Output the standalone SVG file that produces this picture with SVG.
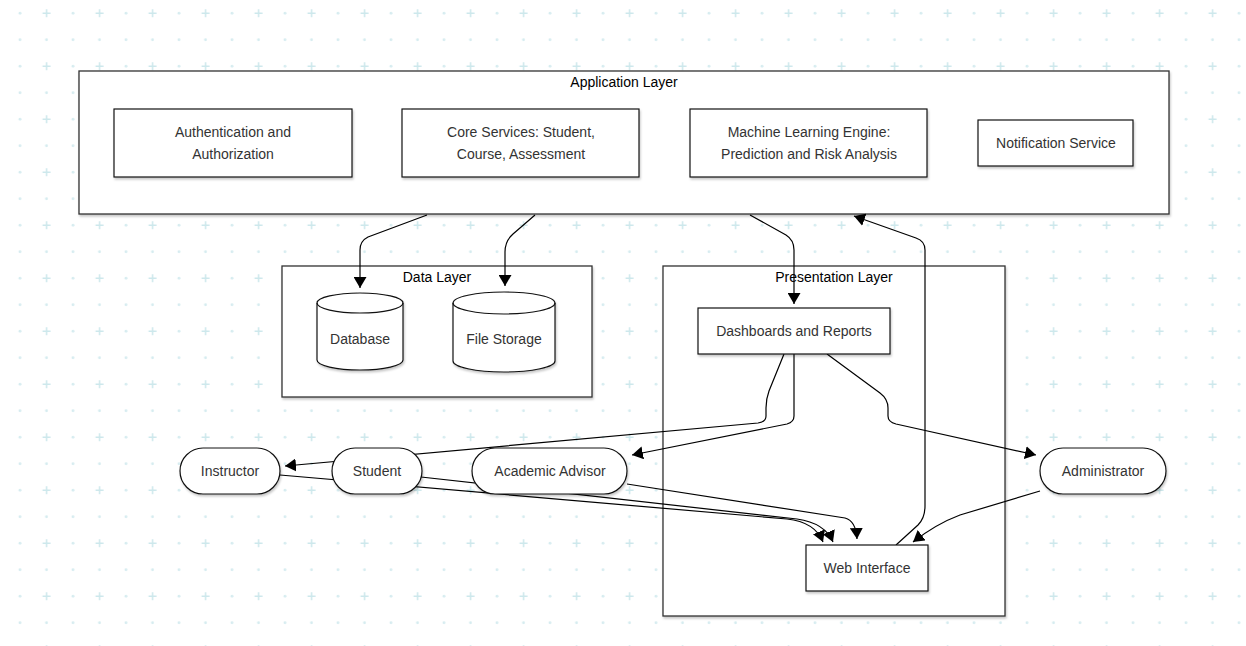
<svg xmlns="http://www.w3.org/2000/svg" width="1246" height="646" viewBox="0 0 1246 646">
  <defs>
    <!-- light dotted / cross grid backdrop -->
    <pattern id="grid" patternUnits="userSpaceOnUse" x="6.75" y="0" width="53" height="53">
      <circle cx="13.25" cy="13.25" r="1.4" fill="#d6ecf0"/>
      <path d="M35.75,13.25 H43.75 M39.75,9.25 V17.25" stroke="#cde8ec" stroke-width="1.5"/>
      <circle cx="13.25" cy="39.75" r="1.4" fill="#d6ecf0"/>
      <circle cx="39.75" cy="39.75" r="1.4" fill="#d6ecf0"/>
    </pattern>
    <filter id="shadow" x="-10%" y="-10%" width="120%" height="130%">
      <feDropShadow dx="1" dy="2" stdDeviation="1" flood-color="#000" flood-opacity="0.22"/>
    </filter>
    <marker id="arrow" markerUnits="userSpaceOnUse" markerWidth="12" markerHeight="13" refX="11" refY="6.5" orient="auto">
      <path d="M0,0 L11,6.5 L0,13 z" fill="#000"/>
    </marker>
  </defs>
  <style>
    .cluster { fill: #fff; stroke: #333; stroke-width: 1.3; filter: url(#shadow); }
    .box { fill: #fff; stroke: #111; stroke-width: 1.2; filter: url(#shadow); }
    .label { font-family: "Liberation Sans", Arial, sans-serif; font-size: 14px; fill: #333; text-anchor: middle; }
    .title { font-family: "Liberation Sans", Arial, sans-serif; font-size: 14px; fill: #000; text-anchor: middle; }
    .edge { fill: none; stroke: #000; stroke-width: 1.2; marker-end: url(#arrow); }
  </style>

  <rect width="1246" height="646" fill="#fff"/>
  <rect width="1246" height="646" fill="url(#grid)"/>

  <!-- layer containers -->
  <g id="application-layer">
    <rect class="cluster" x="79" y="71" width="1090" height="143"/>
    <text class="title" x="624" y="87">Application Layer</text>
  </g>
  <g id="data-layer">
    <rect class="cluster" x="282" y="266" width="310" height="131"/>
    <text class="title" x="437" y="282">Data Layer</text>
  </g>
  <g id="presentation-layer">
    <rect class="cluster" x="663" y="266" width="342" height="350"/>
    <text class="title" x="834" y="282">Presentation Layer</text>
  </g>

  <!-- connectors -->
  <g id="connectors">
    <path class="edge" d="M427,215 L368,237 Q360,241 360,250 L360,288"/>
    <path class="edge" d="M535,215 L513,234 Q505,241 505,252 L505,286"/>
    <path class="edge" d="M750,215 L786,235 Q794,240 794,250 L794,304"/>
    <path class="edge" d="M896,545 L918,525 Q925,518 925,506 L925,250 Q925,241 916,238 L854,216"/>
    <path class="edge" d="M784,354 L769,391 Q766,399 766,408 L766,416 Q766,422 758,423 L285,466"/>
    <path class="edge" d="M794,354 L794,416 Q794,422 787,424 L632,455"/>
    <path class="edge" d="M827,354 L880,393 Q888,399 888,408 L888,416 Q888,422 896,424 L1036,455"/>
    <path class="edge" d="M1040,491 L960,515 Q936,524 913,542"/>
    <path class="edge" d="M280,475 L787,519 Q815,522 823,542"/>
    <path class="edge" d="M421,477 L797,519 Q825,523 833,542"/>
    <path class="edge" d="M627,484 L845,518 Q856,521 857,539"/>
  </g>

  <!-- application services -->
  <g id="auth">
    <rect class="box" x="114" y="109" width="238" height="68"/>
    <text class="label" x="233" y="137">Authentication and</text>
    <text class="label" x="233" y="159">Authorization</text>
  </g>
  <g id="core-services">
    <rect class="box" x="402" y="109" width="237" height="68"/>
    <text class="label" x="521" y="137">Core Services: Student,</text>
    <text class="label" x="521" y="159">Course, Assessment</text>
  </g>
  <g id="ml-engine">
    <rect class="box" x="690" y="109" width="237" height="68"/>
    <text class="label" x="809" y="137">Machine Learning Engine:</text>
    <text class="label" x="809" y="159">Prediction and Risk Analysis</text>
  </g>
  <g id="notification">
    <rect class="box" x="978" y="120" width="155" height="46"/>
    <text class="label" x="1056" y="148">Notification Service</text>
  </g>

  <!-- storage -->
  <g id="database">
    <path class="box" d="M317,303 A43,10 0 0 1 403,303 L403,360 A43,10 0 0 1 317,360 Z"/>
    <path d="M317,303 A43,10 0 0 0 403,303" fill="none" stroke="#111" stroke-width="1.2"/>
    <text class="label" x="360" y="344">Database</text>
  </g>
  <g id="file-storage">
    <path class="box" d="M453,303 A51,11 0 0 1 555,303 L555,361 A51,11 0 0 1 453,361 Z"/>
    <path d="M453,303 A51,11 0 0 0 555,303" fill="none" stroke="#111" stroke-width="1.2"/>
    <text class="label" x="504" y="344">File Storage</text>
  </g>

  <!-- presentation -->
  <g id="dashboards">
    <rect class="box" x="698" y="308" width="192" height="46"/>
    <text class="label" x="794" y="336">Dashboards and Reports</text>
  </g>
  <g id="web-interface">
    <rect class="box" x="806" y="545" width="122" height="46"/>
    <text class="label" x="867" y="573">Web Interface</text>
  </g>

  <!-- users -->
  <g id="instructor">
    <rect class="box" x="180" y="448" width="100" height="46" rx="23"/>
    <text class="label" x="230" y="476">Instructor</text>
  </g>
  <g id="student">
    <rect class="box" x="332" y="448" width="90" height="46" rx="23"/>
    <text class="label" x="377" y="476">Student</text>
  </g>
  <g id="academic-advisor">
    <rect class="box" x="472" y="448" width="155" height="46" rx="23"/>
    <text class="label" x="550" y="476">Academic Advisor</text>
  </g>
  <g id="administrator">
    <rect class="box" x="1040" y="448" width="126" height="46" rx="23"/>
    <text class="label" x="1103" y="476">Administrator</text>
  </g>
</svg>
